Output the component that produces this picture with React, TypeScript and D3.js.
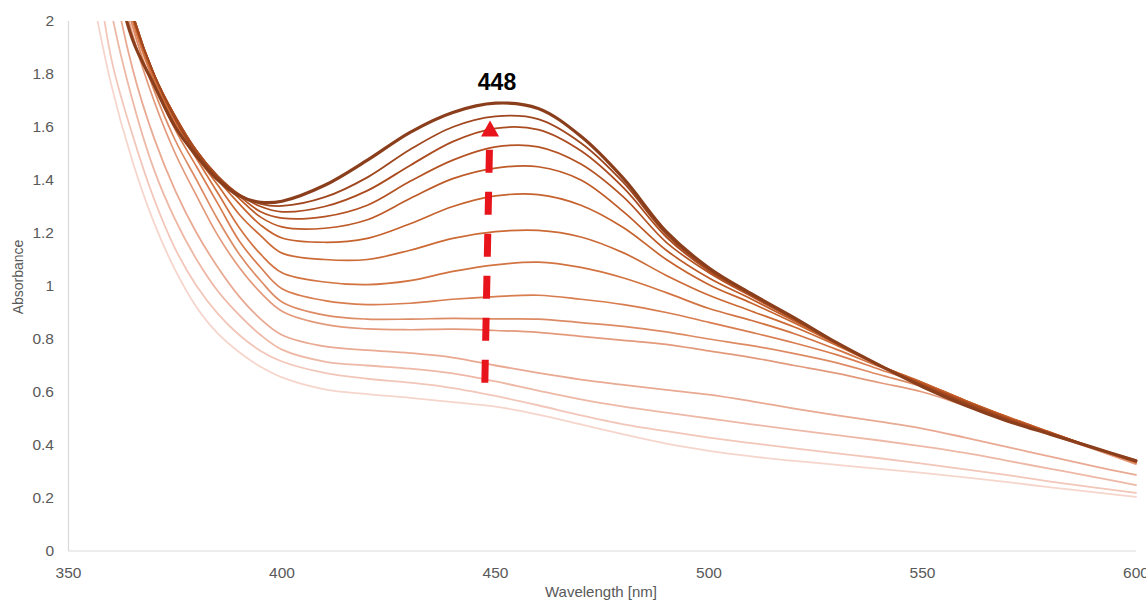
import React from "react";
import * as d3 from "d3";

const wavelengths = [355,360,365,370,375,380,385,390,395,400,410,420,430,440,450,460,470,480,490,500,510,520,530,540,550,560,570,580,590,600];

const s01 = [2.15,1.76,1.47,1.24,1.06,0.92,0.82,0.75,0.695,0.655,0.61,0.592,0.578,0.562,0.545,0.515,0.478,0.44,0.405,0.378,0.357,0.34,0.325,0.31,0.295,0.278,0.26,0.24,0.222,0.204];
const s02 = [2.4,1.86,1.57,1.33,1.14,1.0,0.895,0.815,0.755,0.715,0.672,0.65,0.635,0.615,0.585,0.55,0.512,0.478,0.452,0.428,0.407,0.387,0.368,0.35,0.33,0.308,0.286,0.262,0.24,0.219];
const s03 = [2.6,2.04,1.7,1.44,1.25,1.1,0.98,0.89,0.815,0.76,0.715,0.7,0.688,0.67,0.64,0.605,0.572,0.545,0.522,0.5,0.478,0.457,0.437,0.417,0.395,0.37,0.34,0.31,0.28,0.249];
const s04 = [2.8,2.2,1.82,1.56,1.36,1.2,1.07,0.96,0.875,0.815,0.772,0.758,0.747,0.73,0.7,0.672,0.647,0.627,0.608,0.59,0.565,0.537,0.512,0.488,0.462,0.428,0.392,0.356,0.32,0.287];
const s05 = [2.9,2.3,1.95,1.7,1.5,1.34,1.19,1.07,0.975,0.905,0.855,0.838,0.835,0.837,0.832,0.825,0.81,0.795,0.78,0.755,0.73,0.7,0.67,0.635,0.6,0.548,0.492,0.44,0.385,0.328];
const s06 = [2.95,2.35,1.98,1.74,1.55,1.4,1.25,1.12,1.02,0.94,0.89,0.875,0.875,0.878,0.876,0.875,0.862,0.848,0.827,0.8,0.775,0.745,0.71,0.665,0.62,0.56,0.5,0.445,0.39,0.332];
const s07 = [3.0,2.4,2.0,1.77,1.59,1.45,1.31,1.17,1.07,0.99,0.945,0.93,0.935,0.95,0.96,0.965,0.95,0.93,0.9,0.863,0.825,0.785,0.74,0.685,0.63,0.565,0.503,0.446,0.39,0.333];
const s08 = [3.0,2.4,2.01,1.78,1.61,1.48,1.35,1.22,1.12,1.05,1.015,1.005,1.02,1.055,1.08,1.09,1.07,1.03,0.975,0.915,0.87,0.82,0.76,0.695,0.635,0.568,0.505,0.447,0.39,0.335];
const s09 = [3.0,2.4,2.02,1.79,1.62,1.49,1.38,1.27,1.19,1.124,1.1,1.1,1.135,1.18,1.205,1.21,1.185,1.125,1.04,0.965,0.905,0.845,0.775,0.7,0.636,0.568,0.506,0.448,0.39,0.336];
const s10 = [3.0,2.4,2.02,1.8,1.63,1.5,1.4,1.31,1.23,1.181,1.165,1.18,1.235,1.3,1.34,1.345,1.305,1.22,1.1,1.005,0.935,0.86,0.78,0.7,0.635,0.568,0.505,0.447,0.39,0.337];
const s11 = [3.0,2.4,2.03,1.8,1.64,1.51,1.41,1.33,1.26,1.223,1.218,1.25,1.33,1.405,1.445,1.45,1.4,1.28,1.135,1.03,0.95,0.868,0.783,0.7,0.632,0.566,0.503,0.446,0.39,0.338];
const s12 = [3.0,2.4,2.03,1.8,1.64,1.51,1.41,1.34,1.28,1.256,1.262,1.305,1.395,1.475,1.525,1.525,1.46,1.335,1.165,1.05,0.96,0.873,0.784,0.7,0.63,0.564,0.501,0.445,0.39,0.339];
const s13 = [3.0,2.4,2.03,1.8,1.64,1.51,1.415,1.345,1.3,1.28,1.3,1.36,1.455,1.545,1.595,1.59,1.51,1.37,1.185,1.057,0.965,0.876,0.785,0.7,0.627,0.562,0.499,0.444,0.39,0.34];
const s14 = [3.0,2.35,2.02,1.8,1.63,1.5,1.41,1.345,1.31,1.302,1.335,1.41,1.515,1.6,1.64,1.63,1.54,1.39,1.195,1.062,0.968,0.878,0.785,0.7,0.624,0.558,0.495,0.442,0.39,0.342];
const s15 = [2.8,2.25,1.93,1.76,1.6,1.49,1.4,1.34,1.316,1.32,1.38,1.475,1.58,1.655,1.69,1.67,1.565,1.405,1.205,1.068,0.97,0.88,0.785,0.7,0.62,0.55,0.49,0.44,0.39,0.34];

const seriesList = [s01,s02,s03,s04,s05,s06,s07,s08,s09,s10,s11,s12,s13,s14,s15];
const seriesColors = ["#f6d5cc","#f2c6b9","#eeb8a6","#e9a993","#e39a7c","#dd8b64","#d87d50","#d27342","#cc6a36","#c6622d","#be5a27","#b55223","#aa4b20","#9f461e","#8a3e1c"];
const seriesWidths = [1.8,1.8,1.8,1.8,1.7,1.7,1.7,1.7,1.7,1.7,1.7,1.7,1.8,1.8,3.2];

const xTicks = [350,400,450,500,550,600];
const yTicks = [0,0.2,0.4,0.6,0.8,1,1.2,1.4,1.6,1.8,2];

const peakLabel = "448";
const arrowX = [447.5, 448.6];
const arrowY = [0.635, 1.53];
const arrowTip = 1.625;

export default function App() {
  const W = 1146, H = 603;
  const x = d3.scaleLinear().domain([350, 600]).range([68.5, 1136]);
  const y = d3.scaleLinear().domain([0, 2]).range([551, 21]);
  const line = d3.line<number>()
    .x((_, i) => x(wavelengths[i]))
    .y((d) => y(d))
    .curve(d3.curveCatmullRom.alpha(0.5));

  const ax0 = x(arrowX[0]), ax1 = x(arrowX[1]);
  const ay0 = y(arrowY[0]), ay1 = y(arrowY[1]);
  const tipY = y(arrowTip);
  const tipX = ax1 + (ax1 - ax0) * (tipY - ay1) / (ay1 - ay0);
  const baseY = tipY + 16;

  return (
    <svg width={W} height={H} style={{ position: "absolute", left: 0, top: 0, background: "#fff" }}
      fontFamily="'Liberation Sans', Arial, Helvetica, sans-serif">
      <defs>
        <clipPath id="plot">
          <rect x={x(350)} y={y(2)} width={x(600) - x(350) + 2} height={y(0) - y(2)} />
        </clipPath>
      </defs>
      <line x1={x(350)} x2={x(350)} y1={y(2)} y2={y(0)} stroke="#d9d9d9" strokeWidth={1.2} />
      <line x1={x(350)} x2={x(600)} y1={y(0)} y2={y(0)} stroke="#d9d9d9" strokeWidth={1.2} />
      {yTicks.map((t) => (
        <text key={"y" + t} x={54} y={y(t)} dy="0.35em" textAnchor="end" fontSize={15.5} fill="#595959">{String(t)}</text>
      ))}
      {xTicks.map((t) => (
        <text key={"x" + t} x={x(t)} y={578} textAnchor="middle" fontSize={15.5} fill="#595959">{String(t)}</text>
      ))}
      <text x={601} y={597} textAnchor="middle" fontSize={15} fill="#595959">Wavelength [nm]</text>
      <text transform={`translate(23,277) rotate(-90)`} textAnchor="middle" fontSize={14} fill="#595959">Absorbance</text>
      <g clipPath="url(#plot)" fill="none" strokeLinejoin="round" strokeLinecap="round">
        {seriesList.map((s, i) => (
          <path key={i} d={line(s) || ""} stroke={seriesColors[i]} strokeWidth={seriesWidths[i]} />
        ))}
      </g>
      <line x1={ax0} y1={ay0} x2={ax1} y2={ay1} stroke="#e8141c" strokeWidth={7} strokeDasharray="23 19" />
      <polygon points={`${tipX},${tipY} ${tipX - 9},${baseY} ${tipX + 9},${baseY}`} fill="#e8141c" />
      <text x={497} y={90} textAnchor="middle" fontSize={23} fontWeight="bold" fill="#000">{peakLabel}</text>
    </svg>
  );
}
